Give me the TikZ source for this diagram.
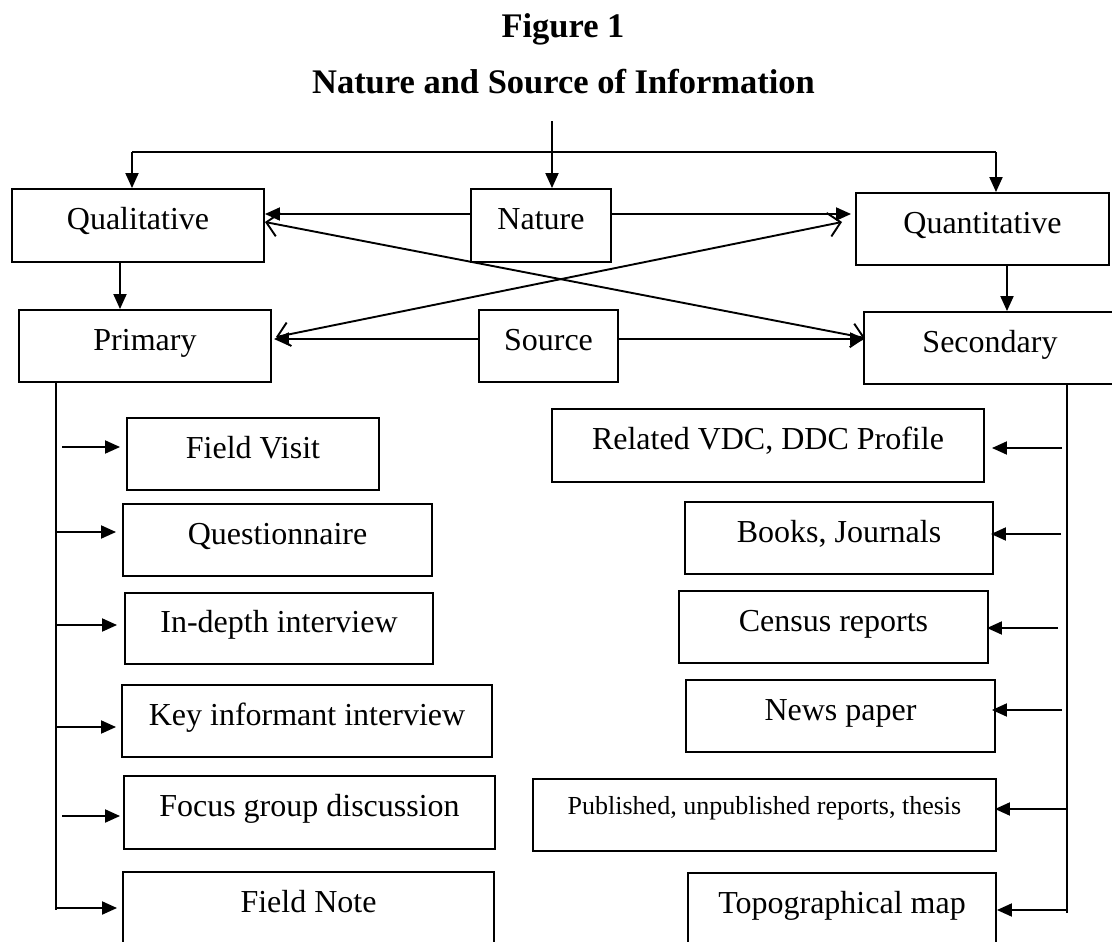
\documentclass[tikz,border=0pt]{standalone}
\usepackage{fontspec}
\setmainfont{Liberation Serif}
\usetikzlibrary{arrows.meta,calc}
\begin{document}
\begin{tikzpicture}[x=1pt,y=-1pt,
  box/.style={draw,line width=1.9pt,inner sep=0pt,text height=20pt,text depth=12pt,font=\fontsize{32}{38}\selectfont},
  smallbox/.style={draw,line width=1.9pt,inner sep=0pt,text height=16pt,text depth=18pt,font=\fontsize{26}{31}\selectfont},
  ln/.style={line width=1.9pt},
  arr/.style={ln,-{Triangle[length=15pt,width=13pt]}},
  dbl/.style={ln,{Straight Barb[length=12pt,width=24pt]}-{Straight Barb[length=12pt,width=24pt]}},
  ttl/.style={font=\bfseries\fontsize{34.5}{40}\selectfont,anchor=base,inner sep=0pt}]
\useasboundingbox (0,0) rectangle (1112,942);
\clip (0,0) rectangle (1112,942);

% titles
\node[ttl] (t1) at (563,38) {Figure 1};
\node[ttl] (t2) at (563.5,93) {Nature and Source of Information};

% top level
\node[box,minimum width=252pt,minimum height=73pt] (qual) at (138,225.5) {Qualitative};
\node[box,minimum width=140pt,minimum height=73pt] (nature) at (541,225.5) {Nature};
\node[box,minimum width=253pt,minimum height=72pt] (quant) at (982.5,229) {Quantitative};
\node[box,minimum width=252pt,minimum height=72pt] (prim) at (145,346) {Primary};
\node[box,minimum width=139pt,minimum height=72pt] (src) at (548.5,346) {Source};
\node[box,minimum width=252pt,minimum height=72pt] (sec) at (990,348) {Secondary};

% left column
\node[box,minimum width=252pt,minimum height=72pt] (fv) at (253,454) {Field Visit};
\node[box,minimum width=309pt,minimum height=72pt] (quest) at (277.5,540) {Questionnaire};
\node[box,minimum width=308pt,minimum height=71pt] (indepth) at (279,628.5) {In-depth interview};
\node[box,minimum width=370pt,minimum height=72pt] (key) at (307,721) {Key informant interview};
\node[box,minimum width=371pt,minimum height=73pt] (focus) at (309.5,812.5) {Focus group discussion};
\node[box,minimum width=371pt,minimum height=73pt] (fnote) at (308.5,908.5) {Field Note};

% right column
\node[box,minimum width=432pt,minimum height=73pt] (vdc) at (768,445.5) {Related VDC, DDC Profile};
\node[box,minimum width=308pt,minimum height=72pt] (books) at (839,538) {Books, Journals};
\node[box,minimum width=309pt,minimum height=72pt] (census) at (833.5,627) {Census reports};
\node[box,minimum width=309pt,minimum height=72pt] (news) at (840.5,716) {News paper};
\node[smallbox,minimum width=463pt,minimum height=72pt] (pub) at (764.5,815) {Published, unpublished reports, thesis};
\node[box,minimum width=308pt,minimum height=73pt] (topo) at (842,909.5) {Topographical map};

% top distribution
\coordinate (ntop) at (552,121);
\coordinate (tl) at (132,152);
\coordinate (tr) at (996,152);
\draw[arr] (ntop) -- (ntop |- nature.north);
\draw[ln] (tl) -- (tr);
\draw[arr] (tl) -- (tl |- qual.north);
\draw[arr] (tr) -- (tr |- quant.north);

% nature / source arrows
\draw[arr] ($(nature.west)+(0,-11.5)$) -- ($(qual.east)+(0,-11.5)$);
\draw[arr] ($(nature.east)+(0,-11.5)$) -- ($(quant.west)+(-4,-15)$);
\draw[arr] ($(src.west)+(0,-7)$) -- ($(prim.east)+(2,-7)$);
\draw[arr] ($(src.east)+(0,-7)$) -- ($(sec.west)+(2,-9)$);

% cross arrows
\draw[dbl] ($(qual.east)+(0,-3.5)$) -- ($(sec.west)+(2,-10)$);
\draw[dbl] ($(prim.east)+(4,-9)$) -- ($(quant.west)+(-13,-7)$);

% down arrows
\coordinate (qx) at (120,0);
\coordinate (sx) at (1007,0);
\draw[arr] (qual.south -| qx) -- (prim.north -| qx);
\draw[arr] (quant.south -| sx) -- (sec.north -| sx);

% left trunk
\coordinate (lbot) at (56,910);
\draw[ln] (prim.south -| lbot) -- (lbot);
\draw[arr] (62,447) -- ($(fv.west)+(-6,-7)$);
\draw[arr] (56,532) -- ($(quest.west)+(-6,-8)$);
\draw[arr] (56,625) -- ($(indepth.west)+(-7,-3.5)$);
\draw[arr] (56,727) -- ($(key.west)+(-5,6)$);
\draw[arr] (62,816) -- ($(focus.west)+(-3,3.5)$);
\draw[arr] (56,908) -- ($(fnote.west)+(-5,-0.5)$);

% right trunk
\coordinate (rbot) at (1067,913);
\draw[ln] (sec.south -| rbot) -- (rbot);
\draw[arr] (1062,448) -- ($(vdc.east)+(7,2.5)$);
\draw[arr] (1061,534) -- ($(books.east)+(-3,-4)$);
\draw[arr] (1058,628) -- ($(census.east)+(-2,1)$);
\draw[arr] (1062,710) -- ($(news.east)+(-4,-6)$);
\draw[arr] (1067,809) -- ($(pub.east)+(-2,-6)$);
\draw[arr] (1068,910) -- ($(topo.east)+(0,0.5)$);
\end{tikzpicture}
\end{document}
